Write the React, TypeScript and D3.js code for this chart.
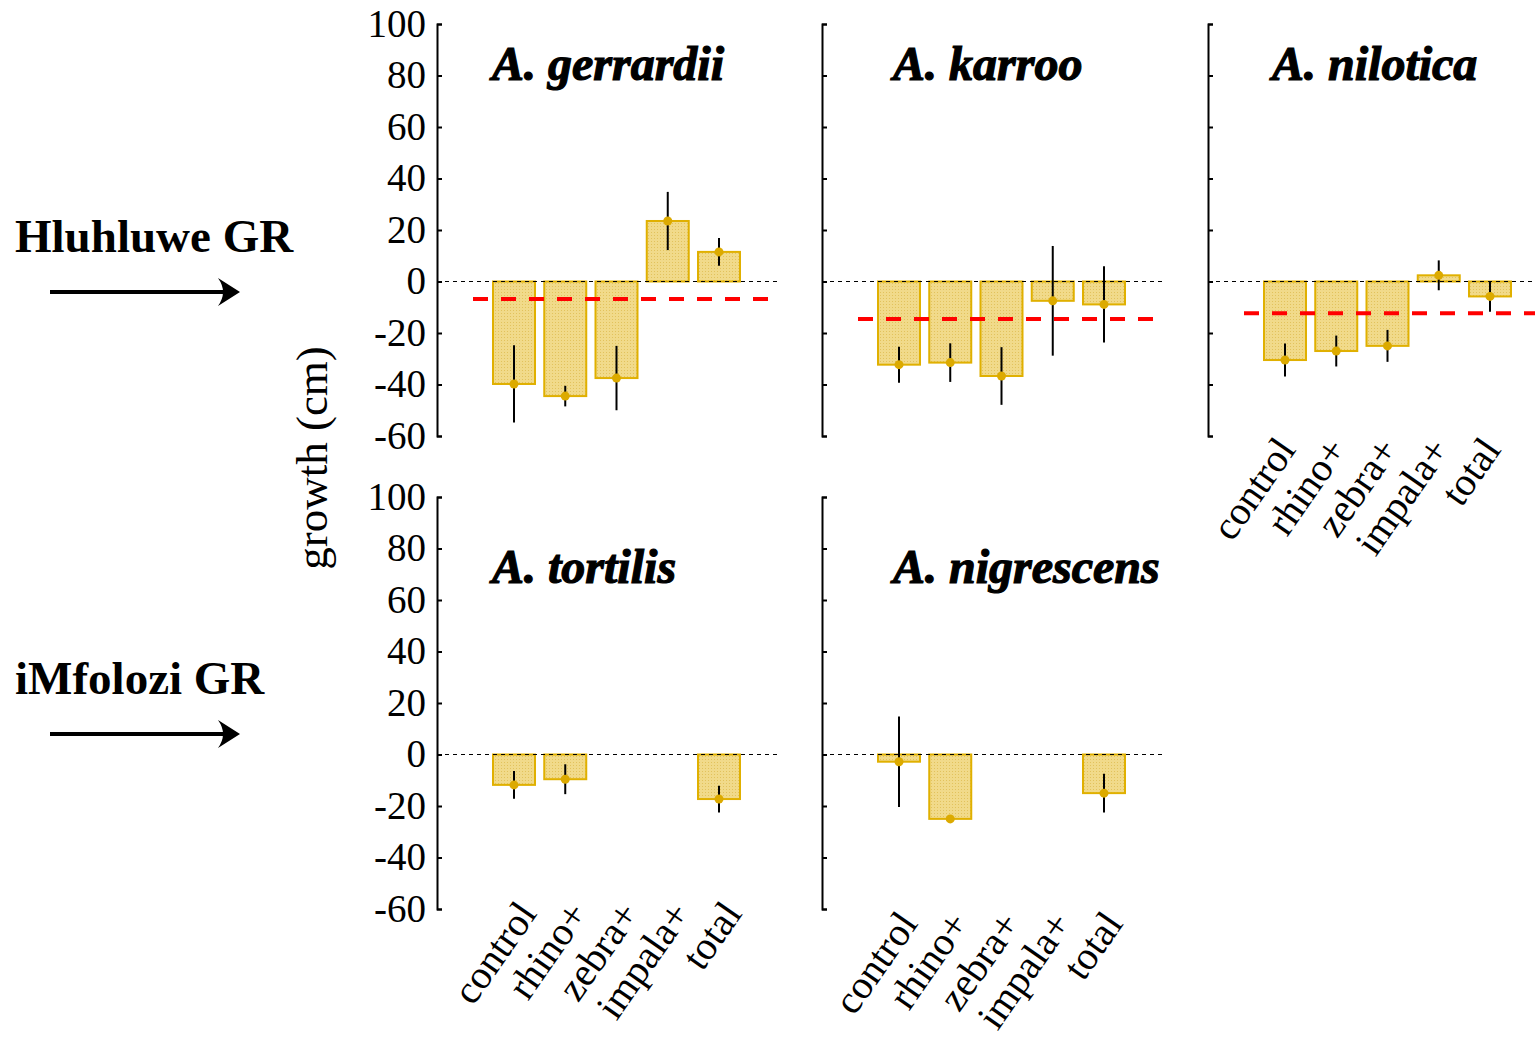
import React, { useEffect, useRef } from 'react';
import * as d3 from 'd3';

// treatments on the x axis
const categories = ['control', 'rhino+', 'zebra+', 'impala+', 'total'];
const speciesNames = ['A. gerrardii', 'A. karroo', 'A. nilotica', 'A. tortilis', 'A. nigrescens'];
const reserveNames = ['Hluhluwe GR', 'iMfolozi GR'];
const yTicks = [-60, -40, -20, 0, 20, 40, 60, 80, 100];

// growth (cm), mean and error per treatment; null = not sampled
const gerrardiiMean = [-39.8, -44.5, -37.5, 23.5, 11.5];
const gerrardiiErr = [15, 4, 12.5, 11.3, 5.4];
const karrooMean = [-32.3, -31.5, -36.7, -7.5, -8.9];
const karrooErr = [7, 7.5, 11.2, 21.3, 14.8];
const niloticaMean = [-30.5, -27, -25, 2.4, -5.8];
const niloticaErr = [6.4, 6, 6.2, 5.8, 5.9];
const tortilisMean = [-11.8, -9.6, null, null, -17.3];
const tortilisErr = [5.4, 5.8, null, null, 5.2];
const nigrescensMean = [-2.8, -25, null, null, -15];
const nigrescensErr = [17.6, 0, null, null, 7.5];

// overall mean (red dashed line), Hluhluwe species only
const overallMean = [-6.8, -14.6, -12.3];

const FONT = '"Liberation Serif", "Times New Roman", serif';

const App = () => {
    const ref = useRef(null);

    useEffect(() => {
        const svg = d3.select(ref.current);
        svg.selectAll('*').remove();

        // speckled bar fill
        const pat = svg.append('defs').append('pattern')
            .attr('id', 'speckle')
            .attr('width', 3)
            .attr('height', 3)
            .attr('patternUnits', 'userSpaceOnUse');
        pat.append('rect').attr('width', 3).attr('height', 3).attr('fill', '#f1da8a');
        pat.append('rect').attr('x', 1).attr('y', 1).attr('width', 1).attr('height', 1).attr('fill', '#e2c25c');

        const panels = [
            {name: speciesNames[0], mean: gerrardiiMean, err: gerrardiiErr, overall: overallMean[0], row: 0, col: 0, labels: null},
            {name: speciesNames[1], mean: karrooMean, err: karrooErr, overall: overallMean[1], row: 0, col: 1, labels: null},
            {name: speciesNames[2], mean: niloticaMean, err: niloticaErr, overall: overallMean[2], row: 0, col: 2, labels: [12, 14]},
            {name: speciesNames[3], mean: tortilisMean, err: tortilisErr, overall: null, row: 1, col: 0, labels: [24, 5]},
            {name: speciesNames[4], mean: nigrescensMean, err: nigrescensErr, overall: null, row: 1, col: 1, labels: [20, 15]},
        ];

        const axisX = [437, 822, 1208];
        const rowTop = [24, 497];
        const titleX = [55, 71, 64];
        const titleY = [56, 86];
        const h = 412;
        const w = 341;

        const y = d3.scaleLinear().domain([-60, 100]).range([h, 0]);
        const x = d3.scalePoint().domain(categories).range([77, 282]);
        const barW = 42;

        panels.forEach(p => {
            const g = svg.append('g')
                .attr('transform', `translate(${axisX[p.col]},${rowTop[p.row]})`);

            const data = categories
                .map((c, i) => ({c, v: p.mean[i], e: p.err[i]}))
                .filter(d => d.v != null);

            g.selectAll('.bar')
                .data(data)
                .join('rect')
                .attr('class', 'bar')
                .attr('x', d => x(d.c) - barW / 2)
                .attr('y', d => y(Math.max(d.v, 0)))
                .attr('width', barW)
                .attr('height', d => Math.abs(y(d.v) - y(0)))
                .attr('fill', 'url(#speckle)')
                .attr('stroke', '#e0b000')
                .attr('stroke-width', 2);

            // zero reference
            g.append('line')
                .attr('x1', 0).attr('x2', w)
                .attr('y1', y(0)).attr('y2', y(0))
                .attr('stroke', '#000')
                .attr('stroke-width', 1)
                .attr('stroke-dasharray', '4,4');

            if (p.overall != null) {
                g.append('line')
                    .attr('x1', 36).attr('x2', 331)
                    .attr('y1', y(p.overall)).attr('y2', y(p.overall))
                    .attr('stroke', '#ff0000')
                    .attr('stroke-width', 4)
                    .attr('stroke-dasharray', '15,13');
            }

            g.selectAll('.err')
                .data(data.filter(d => d.e))
                .join('line')
                .attr('class', 'err')
                .attr('x1', d => x(d.c)).attr('x2', d => x(d.c))
                .attr('y1', d => y(d.v + d.e)).attr('y2', d => y(d.v - d.e))
                .attr('stroke', '#000')
                .attr('stroke-width', 2);

            g.selectAll('.dot')
                .data(data)
                .join('circle')
                .attr('class', 'dot')
                .attr('cx', d => x(d.c))
                .attr('cy', d => y(d.v))
                .attr('r', 4.5)
                .attr('fill', '#dcaa00');

            // y axis, ticks pointing inward
            const ax = g.append('g')
                .call(d3.axisLeft(y)
                    .tickValues(yTicks)
                    .tickSizeInner(-5)
                    .tickSizeOuter(-5)
                    .tickPadding(11)
                    .tickFormat(d => p.col === 0 ? String(d) : ''));
            ax.select('.domain').attr('stroke-width', 2);
            ax.selectAll('.tick line').attr('stroke-width', 2);
            ax.selectAll('text')
                .attr('font-family', FONT)
                .attr('font-size', 39)
                .attr('fill', '#000');

            g.append('text')
                .attr('x', titleX[p.col])
                .attr('y', titleY[p.row])
                .attr('font-family', FONT)
                .attr('font-size', 48)
                .attr('font-weight', 'bold')
                .attr('font-style', 'italic')
                .attr('stroke', '#000')
                .attr('stroke-width', 1.2)
                .text(p.name);

            if (p.labels) {
                const [ox, oy] = p.labels;
                g.selectAll('.cat')
                    .data(categories)
                    .join('text')
                    .attr('class', 'cat')
                    .attr('transform', d => `translate(${x(d) + ox},${h + oy}) rotate(-55)`)
                    .attr('text-anchor', 'end')
                    .attr('font-family', FONT)
                    .attr('font-size', 40)
                    .text(d => d);
            }
        });

        // reserve labels with arrows
        const reserveY = [252, 694];
        const arrowY = [292, 734];
        reserveNames.forEach((name, i) => {
            svg.append('text')
                .attr('x', 15)
                .attr('y', reserveY[i])
                .attr('font-family', FONT)
                .attr('font-size', 47)
                .attr('font-weight', 'bold')
                .text(name);
            const ay = arrowY[i];
            svg.append('line')
                .attr('x1', 50).attr('x2', 232)
                .attr('y1', ay).attr('y2', ay)
                .attr('stroke', '#000')
                .attr('stroke-width', 4);
            svg.append('path')
                .attr('d', `M240,${ay} L218,${ay - 14} Q228,${ay} 218,${ay + 14} Z`)
                .attr('fill', '#000');
        });

        svg.append('text')
            .attr('transform', 'translate(327,458) rotate(-90)')
            .attr('text-anchor', 'middle')
            .attr('font-family', FONT)
            .attr('font-size', 45)
            .text('growth (cm)');
    }, []);

    return (
        <svg
            ref={ref}
            width={1535}
            height={1041}
            style={{position: 'absolute', left: 0, top: 0, background: '#fff'}}
        />
    );
};

export default App;
